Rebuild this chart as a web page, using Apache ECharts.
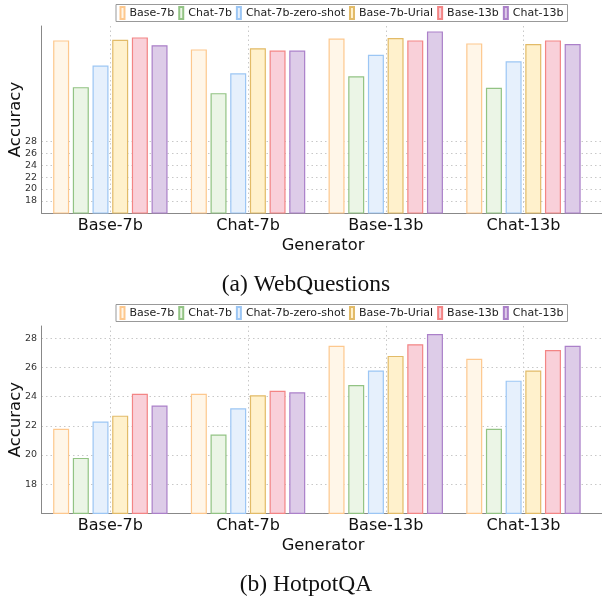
<!DOCTYPE html>
<html><head><meta charset="utf-8">
<script src="https://cdn.jsdelivr.net/npm/echarts@6/dist/echarts.min.js"></script>
<style>html,body{margin:0;padding:0;background:#fff}#c{width:602px;height:601px}</style>
</head><body><div id="c"></div>
<script>
const categories = ['Base-7b', 'Chat-7b', 'Base-13b', 'Chat-13b'];
const seriesNames = ['Base-7b', 'Chat-7b', 'Chat-7b-zero-shot', 'Base-7b-Urial', 'Base-13b', 'Chat-13b'];
const yTicks = [18, 20, 22, 24, 26, 28];

// (a) WebQuestions
const webqBase7b         = [44.8, 43.3, 45.1, 44.3];
const webqChat7b         = [37.0, 36.0, 38.8, 36.9];
const webqChat7bZeroShot = [40.6, 39.3, 42.4, 41.3];
const webqBase7bUrial    = [44.9, 43.5, 45.2, 44.2];
const webqBase13b        = [45.3, 43.1, 44.8, 44.8];
const webqChat13b        = [44.0, 43.1, 46.3, 44.2];

// (b) HotpotQA
const hotBase7b         = [21.8, 24.2, 27.5, 26.6];
const hotChat7b         = [19.8, 21.4, 24.8, 21.8];
const hotChat7bZeroShot = [22.3, 23.2, 25.8, 25.1];
const hotBase7bUrial    = [22.7, 24.1, 26.8, 25.8];
const hotBase13b        = [24.2, 24.4, 27.6, 27.2];
const hotChat13b        = [23.4, 24.3, 28.3, 27.5];

const webqData = [webqBase7b, webqChat7b, webqChat7bZeroShot, webqBase7bUrial, webqBase13b, webqChat13b];
const hotData = [hotBase7b, hotChat7b, hotChat7bZeroShot, hotBase7bUrial, hotBase13b, hotChat13b];

const fills   = ['#fff6e8', '#ebf5e6', '#e6f0fc', '#fff1cc', '#f9d0d9', '#ddcce8'];
const borders = ['#fdc88e', '#92c384', '#9cc6f4', '#e2bb68', '#f38585', '#ab80c9'];

const dotted = { type: [1.5, 3], color: '#c8c8c8', width: 1 };
const axisColor = '#888';
const sans = 'DejaVu Sans';

function xAxisFor(i) {
  return {
    type: 'category', gridIndex: i, data: categories, max: 4, boundaryGap: true,
    axisLine: { show: true, onZero: false, lineStyle: { color: axisColor, width: 1 } },
    axisTick: { show: false, alignWithLabel: true },
    axisLabel: { fontSize: 16, color: '#111', margin: 5, fontFamily: sans,
                 formatter: v => (v == null ? '' : v) },
    splitLine: { show: true, alignWithLabel: true, lineStyle: dotted }
  };
}
function yAxisFor(i, max) {
  return {
    type: 'value', gridIndex: i, min: 16, max: max,
    axisLine: { show: true, lineStyle: { color: axisColor, width: 1 } },
    axisTick: { show: false, customValues: yTicks },
    axisLabel: { customValues: yTicks, fontSize: 9.5, color: '#333', margin: 4.5, fontFamily: sans },
    splitLine: { show: true, lineStyle: dotted },
    name: 'Accuracy', nameLocation: 'middle', nameGap: 17, nameMoveOverlap: false,
    nameTextStyle: { fontSize: 16.5, color: '#111', fontFamily: sans }
  };
}
function legendFor(top) {
  return {
    data: seriesNames, left: 116, top: top, orient: 'horizontal',
    icon: 'rect', itemWidth: 4, itemHeight: 12, itemGap: 4,
    padding: [1.5, 4, 1.5, 3.5],
    backgroundColor: '#fff', borderColor: '#999', borderWidth: 1, borderRadius: 0,
    textStyle: { fontSize: 11, color: '#222', fontFamily: sans },
    selectedMode: false
  };
}

const series = [];
[webqData, hotData].forEach((set, gi) => {
  set.forEach((vals, si) => {
    series.push({
      type: 'bar', name: seriesNames[si], xAxisIndex: gi, yAxisIndex: gi,
      data: vals, barWidth: 16, barGap: '23%',
      itemStyle: { color: fills[si], borderColor: borders[si], borderWidth: 1.2 },
      emphasis: { disabled: true }
    });
  });
});

const chart = echarts.init(document.getElementById('c'));
chart.setOption({
  animation: false,
  legend: [legendFor(4.5), legendFor(304.5)],
  grid: [
    { left: 41.5, top: 26, width: 688.5, height: 187, containLabel: false, outerBoundsMode: 'none' },
    { left: 41.5, top: 326, width: 688.5, height: 187.3, containLabel: false, outerBoundsMode: 'none' }
  ],
  xAxis: [xAxisFor(0), xAxisFor(1)],
  yAxis: [yAxisFor(0, 47.2), yAxisFor(1, 28.85)],
  series: series,
  graphic: [
    { type: 'text', x: 323, y: 246, style: { text: 'Generator', fontSize: 16.3, fontFamily: sans, fill: '#111', align: 'center', verticalAlign: 'middle' } },
    { type: 'text', x: 323, y: 546, style: { text: 'Generator', fontSize: 16.3, fontFamily: sans, fill: '#111', align: 'center', verticalAlign: 'middle' } },
    { type: 'text', x: 306, y: 285, style: { text: '(a) WebQuestions', fontSize: 23.5, fontFamily: 'Liberation Serif', fill: '#111', align: 'center', verticalAlign: 'middle' } },
    { type: 'text', x: 306, y: 585, style: { text: '(b) HotpotQA', fontSize: 23.5, fontFamily: 'Liberation Serif', fill: '#111', align: 'center', verticalAlign: 'middle' } }
  ]
});
</script>
</body></html>
